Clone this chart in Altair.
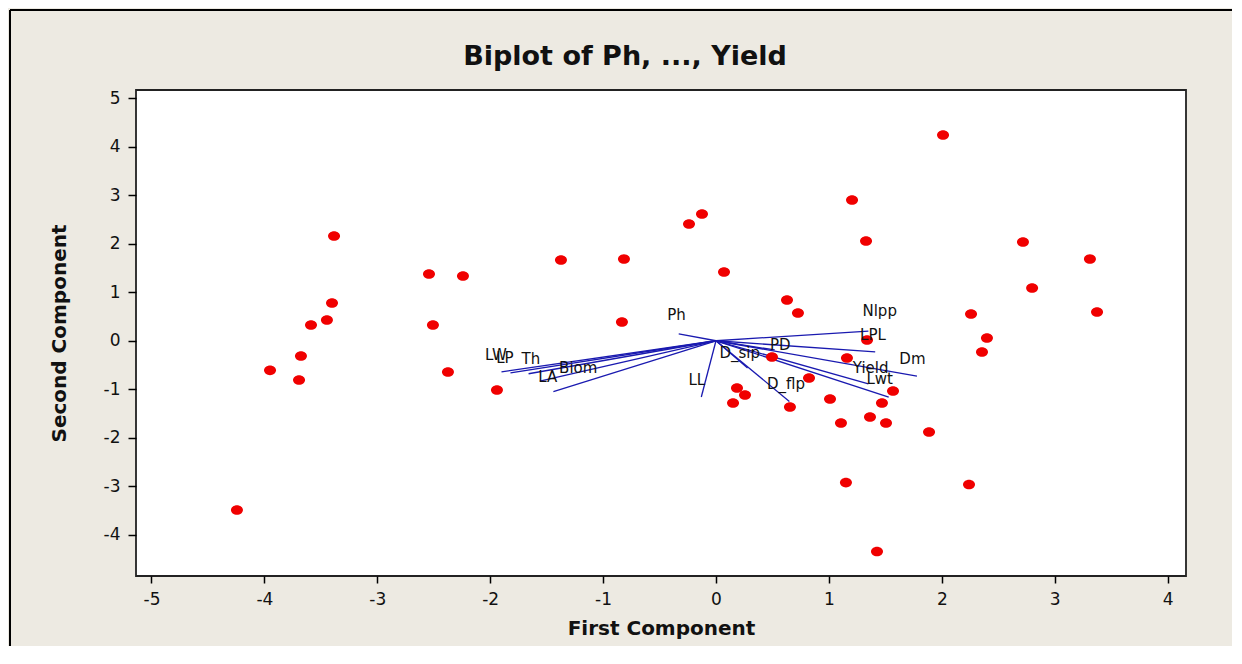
import altair as alt
import pandas as pd

# ---- observation scores (first, second component) ----
pc1 = [-3.383, -2.542, -2.241, -3.401, -3.446, -3.587, -2.507, -3.676, -3.95,
       -2.374, -3.693, -1.940, -4.243, -1.373, -0.815, -0.833,
       -0.124, -0.239, 0.071, 0.629, 0.726, 0.496, 0.824, 0.186, 0.257, 0.151,
       0.655, 1.010, 1.160, 1.338, 1.568, 1.470,
       2.011, 1.205, 1.329, 2.719, 3.312, 2.80, 3.375, 2.259, 2.400, 2.356,
       1.364, 1.107, 1.506, 1.887, 1.151, 2.241, 1.426]
pc2 = [2.161, 1.377, 1.336, 0.779, 0.429, 0.326, 0.326, -0.313, -0.61,
       -0.643, -0.808, -1.015, -3.488, 1.666, 1.687, 0.388,
       2.614, 2.408, 1.419, 0.841, 0.573, -0.334, -0.767, -0.973, -1.117, -1.282,
       -1.365, -1.200, -0.355, 0.016, -1.036, -1.283,
       4.243, 2.903, 2.058, 2.037, 1.686, 1.089, 0.594, 0.552, 0.058, -0.231,
       -1.571, -1.695, -1.695, -1.880, -2.924, -2.965, -4.346]

# ---- variable loadings (vector tips) and label positions ----
var_names = ["Ph", "LW", "LP", "Th", "LA", "Biom", "LL", "D_sip", "PD",
             "D_flp", "Nlpp", "LPL", "Dm", "Yield", "Lwt"]
load1 = [-0.33, -1.90, -1.82, -1.66, -1.56, -1.44, -0.13, 0.28, 0.52,
         0.65, 1.35, 1.41, 1.78, 1.35, 1.53]
load2 = [0.14, -0.64, -0.66, -0.68, -0.83, -1.05, -1.16, -0.56, -0.19,
         -1.25, 0.20, -0.23, -0.73, -0.89, -1.16]
lab1 = [-0.35, -1.95, -1.87, -1.64, -1.49, -1.22, -0.17, 0.21, 0.57,
        0.62, 1.45, 1.39, 1.74, 1.37, 1.45]
lab2 = [0.53, -0.29, -0.36, -0.38, -0.75, -0.56, -0.81, -0.25, -0.09,
        -0.89, 0.61, 0.12, -0.38, -0.56, -0.79]

x_ticks = [-5, -4, -3, -2, -1, 0, 1, 2, 3, 4]
y_ticks = [-4, -3, -2, -1, 0, 1, 2, 3, 4, 5]
X_DOMAIN = [-5.137, 4.163]
Y_DOMAIN = [-4.85, 5.17]
TITLE = "Biplot of Ph, ..., Yield"

points = pd.DataFrame({"pc1": pc1, "pc2": pc2})
vec = pd.DataFrame({"var": var_names, "l1": load1, "l2": load2,
                    "t1": lab1, "t2": lab2,
                    "o1": [0.0] * len(var_names), "o2": [0.0] * len(var_names)})

xs = alt.Scale(domain=X_DOMAIN, nice=False, zero=False)
ys = alt.Scale(domain=Y_DOMAIN, nice=False, zero=False)

FONT = "DejaVu Sans"
xaxis = alt.Axis(values=x_ticks, title="First Component", grid=False, domain=False,
                 tickColor="#000", tickSize=7, tickWidth=1.5,
                 labelFont=FONT, labelFontSize=17, labelColor="#111", labelPadding=8,
                 labelExpr="datum.value + ''",
                 titleFont=FONT, titleFontSize=20, titleFontWeight="bold",
                 titleColor="#111", titlePadding=11)
yaxis = alt.Axis(values=y_ticks, title="Second Component", grid=False, domain=False,
                 tickColor="#000", tickSize=8, tickWidth=1.5,
                 labelFont=FONT, labelFontSize=17, labelColor="#111", labelPadding=8,
                 labelExpr="datum.value + ''",
                 titleFont=FONT, titleFontSize=20, titleFontWeight="bold",
                 titleColor="#111", titlePadding=34)

vectors = alt.Chart(vec).mark_rule(color="#1A1AB0", strokeWidth=1.3).encode(
    x=alt.X("o1:Q", scale=xs, axis=xaxis),
    y=alt.Y("o2:Q", scale=ys, axis=yaxis),
    x2="l1:Q",
    y2="l2:Q",
)

ELLIPSE = "M-1,0 A1,0.8,0,1,1,1,0 A1,0.8,0,1,1,-1,0 Z"
dots = alt.Chart(points).mark_point(shape=ELLIPSE, filled=True, size=144,
                                    color="#F00000", opacity=1).encode(
    x=alt.X("pc1:Q", scale=xs),
    y=alt.Y("pc2:Q", scale=ys),
)

labels = alt.Chart(vec).mark_text(font=FONT, fontSize=15, color="#111",
                                  align="center", baseline="middle").encode(
    x=alt.X("t1:Q", scale=xs),
    y=alt.Y("t2:Q", scale=ys),
    text="var:N",
)

frame = alt.Data(values=[{}])
top_edge = alt.Chart(frame).mark_rule(color="#000", strokeWidth=2).encode(
    x=alt.value(-126), x2=alt.value(1100), y=alt.value(-80))
left_edge = alt.Chart(frame).mark_rule(color="#000", strokeWidth=2).encode(
    x=alt.value(-126), y=alt.value(-80), y2=alt.value(570))
title = alt.Chart(frame).mark_text(text=TITLE, font=FONT, fontSize=27,
                                   fontWeight="bold", color="#111",
                                   align="center", baseline="alphabetic").encode(
    x=alt.value(489), y=alt.value(-25))

chart = alt.layer(top_edge, left_edge, vectors, dots, labels, title).properties(
    width=1050, height=486,
    autosize="none",
    padding={"left": 128, "top": 82, "right": 46, "bottom": 70},
    background="#EDEAE2",
).configure_view(
    fill="white", stroke="#222", strokeWidth=1.8
)

chart.save("out.html", embed_options={"renderer": "svg", "actions": False})
